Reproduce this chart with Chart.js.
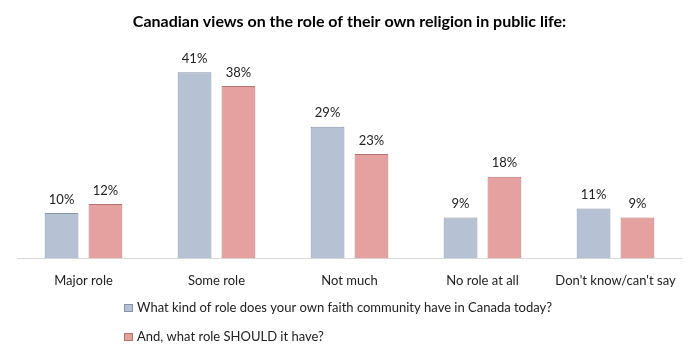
<!DOCTYPE html>
<html>
<head>
<meta charset="utf-8">
<script src="https://cdn.jsdelivr.net/npm/chart.js@4.4.0/dist/chart.umd.min.js"></script>
<style>
  html, body { margin: 0; padding: 0; background: #fff; }
  #wrap { width: 699px; height: 360px; }
</style>
</head>
<body>
<div id="wrap"><canvas id="roleChart" width="699" height="360"></canvas></div>
<script>
var categories = ['Major role', 'Some role', 'Not much', 'No role at all', "Don't know/can't say"];
var currentRole = [10, 41, 29, 9, 11];
var shouldRole = [12, 38, 23, 18, 9];
var seriesNames = [
    'What kind of role does your own faith community have in Canada today?',
    'And, what role SHOULD it have?'
];

var FONT = 'Lato, "Open Sans", sans-serif';

// percent labels over each bar
var barLabels = {
    id: 'barLabels',
    afterDatasetsDraw: function(chart){
        var ctx = chart.ctx;
        ctx.save();
        ctx.font = '13px ' + FONT;
        ctx.fillStyle = '#222';
        ctx.textAlign = 'center';
        ctx.textBaseline = 'bottom';
        chart.data.datasets.forEach(function(ds, i){
            chart.getDatasetMeta(i).data.forEach(function(bar, j){
                ctx.fillText(ds.data[j] + '%', bar.x, bar.y - 7);
            });
        });
        ctx.restore();
    }
};

// vertical legend under the axis, like the original
var sideLegend = {
    id: 'sideLegend',
    afterDraw: function(chart){
        var ctx = chart.ctx;
        ctx.save();
        ctx.font = '13px ' + FONT;
        ctx.textBaseline = 'middle';
        chart.data.datasets.forEach(function(ds, i){
            var y = 308 + i * 29;
            ctx.fillStyle = ds.backgroundColor;
            ctx.fillRect(124, y - 4, 9, 8);
            ctx.strokeStyle = ds.borderColor;
            ctx.lineWidth = 1;
            ctx.strokeRect(124.5, y - 3.5, 8, 7);
            ctx.fillStyle = '#222';
            ctx.fillText(ds.label, 137, y);
        });
        ctx.restore();
    }
};

var ctx = document.getElementById('roleChart').getContext('2d');
var chart = new Chart(ctx, {
    type: 'bar',
    data: {
        labels: categories,
        datasets: [{
            label: seriesNames[0],
            data: currentRole,
            backgroundColor: '#b6c1d4',
            borderColor: '#8793a8',
            borderWidth: 1
        },
            {
                label: seriesNames[1],
                data: shouldRole,
                backgroundColor: '#e5a0a0',
                borderColor: '#b57474',
                borderWidth: 1
            }]
    },
    options: {
        responsive: false,
        animation: false,
        categoryPercentage: 0.66,
        barPercentage: 0.77,
        layout: {
            padding: { left: 17, right: 17, bottom: 64 }
        },
        plugins: {
            legend: { display: false },
            tooltip: { enabled: false },
            title: {
                display: true,
                text: 'Canadian views on the role of their own religion in public life:',
                color: '#000',
                font: { family: FONT, size: 16, weight: 'bold' },
                padding: { top: 12, bottom: 23 }
            }
        },
        scales: {
            x: {
                grid: { display: false },
                border: { display: true, color: '#d9d9d9' },
                ticks: {
                    color: '#222',
                    font: { family: FONT, size: 13 },
                    padding: 7,
                    maxRotation: 0
                }
            },
            y: {
                display: false,
                min: 0,
                max: 45
            }
        }
    },
    plugins: [barLabels, sideLegend]
});
</script>
</body>
</html>
